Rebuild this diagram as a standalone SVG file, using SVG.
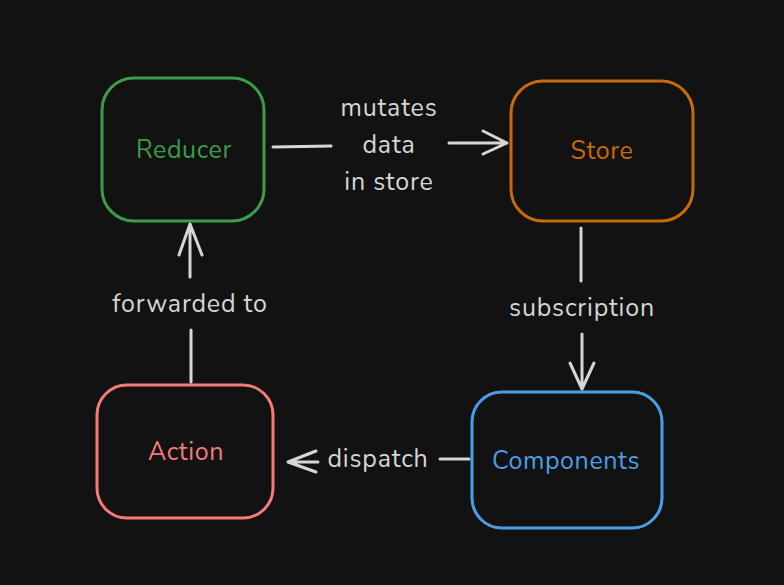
<svg xmlns="http://www.w3.org/2000/svg" width="784" height="585" viewBox="0 0 784 585">
<style>
.node{fill:#121212;stroke-width:3}
.nt{font-family:"Nunito","Noto Sans","Lato",sans-serif;font-size:25px;letter-spacing:0.6px;text-anchor:middle;dominant-baseline:central}
.lbl{font-family:"Nunito","Noto Sans","Lato",sans-serif;font-size:25px;letter-spacing:0.8px;fill:#d6d6d6;text-anchor:middle;dominant-baseline:central}
.ln{stroke:#d6d6d6;stroke-width:3;fill:none;stroke-linecap:round;stroke-linejoin:round}
</style>
<rect width="784" height="585" fill="#121212"/>
<g id="reducer">
<rect class="node" x="102" y="78" width="162" height="143" rx="32" stroke="#3c9c48"/>
<text class="nt" x="184" y="150" fill="#3c9c48">Reducer</text>
</g>
<g id="store">
<rect class="node" x="511" y="81" width="182" height="140" rx="32" stroke="#c86a06"/>
<text class="nt" x="602" y="151" fill="#c86a06">Store</text>
</g>
<g id="action">
<rect class="node" x="97" y="385" width="176" height="133" rx="30" stroke="#f77a7a"/>
<text class="nt" x="186" y="452" fill="#f77a7a">Action</text>
</g>
<g id="components">
<rect class="node" x="472" y="392" width="190" height="136" rx="30" stroke="#4d9de6"/>
<text class="nt" x="566" y="461" fill="#4d9de6">Components</text>
</g>
<g id="connectors">
<path class="ln" d="M273 147 L331 146"/>
<path class="ln" d="M449 143 L507 143 M483 131 L507 143 L483 154"/>
<text class="lbl" x="389" y="108">mutates</text>
<text class="lbl" x="389" y="145">data</text>
<text class="lbl" x="389" y="182">in store</text>
<path class="ln" d="M581 228 L581 281"/>
<path class="ln" d="M582 334 L582 389 M570 363 L582 389 L594 363"/>
<text class="lbl" x="582" y="308">subscription</text>
<path class="ln" d="M469 459 L440 459"/>
<path class="ln" d="M318 462 L288 462 M316 451 L288 462 L316 472"/>
<text class="lbl" x="378" y="459">dispatch</text>
<path class="ln" d="M191 382 L191 330"/>
<path class="ln" d="M190 277 L190 224 M179 255 L190 224 L202 255"/>
<text class="lbl" x="190" y="304">forwarded to</text>
</g>
</svg>
